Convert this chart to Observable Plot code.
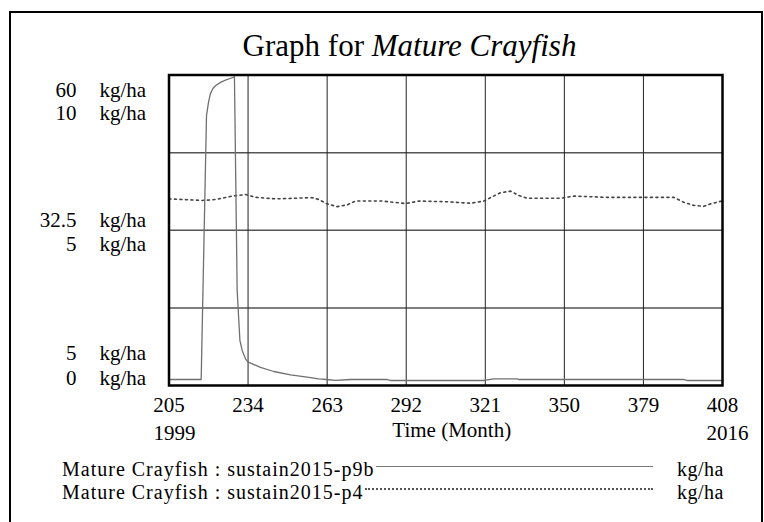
<!DOCTYPE html>
<html><head><meta charset="utf-8">
<script src="https://cdn.jsdelivr.net/npm/d3@7"></script>
<script src="https://cdn.jsdelivr.net/npm/@observablehq/plot@0.6"></script>
<style>
html,body{margin:0;padding:0;background:#fff;}
#wrap{position:relative;width:764px;height:522px;overflow:hidden;font-family:"Liberation Serif","Times New Roman",Times,"DejaVu Serif","Noto Serif",serif;color:#000;}
#wrap svg{position:absolute;left:0;top:0;}
#border{position:absolute;left:9px;top:11px;width:750px;height:600px;border:2px solid #000;}
#title{position:absolute;left:0;width:819px;top:28px;text-align:center;font-size:31px;line-height:36px;white-space:nowrap;}
.row{position:absolute;left:62px;width:591px;height:18px;display:flex;align-items:center;font-size:20px;line-height:18px;letter-spacing:1px;white-space:nowrap;}
.row .sw{flex:1;height:0;margin-left:2px;position:relative;top:-3px;}
.unit{position:absolute;left:677px;font-size:20px;line-height:18px;height:18px;letter-spacing:0.5px;}
</style>
</head><body>
<div id="wrap">
  <div id="chart"></div>
  <div id="border"></div>
  <div id="title"></div>
  <div id="legend"></div>
</div>
<script>
// ---- data ----
const titlePlain = "Graph for ";
const titleItalic = "Mature Crayfish";
const xTicks = [205, 234, 263, 292, 321, 350, 379, 408];
const yearLabels = ["1999", "2016"];
const xAxisLabel = "Time (Month)";
const unit = "kg/ha";
const seriesNames = ["Mature Crayfish : sustain2015-p9b", "Mature Crayfish : sustain2015-p4"];
// solid series scale 5..60, dotted series 0..10
const solidTickLabels = [60, 32.5, 5];
const dottedTickLabels = [10, 5, 0];

const solidMonths = [205, 216.8, 218.75, 219.5, 220.2, 221.1, 222.05, 223.9, 225.7, 228.65, 229.0, 230.0, 231.0, 231.85, 233.05, 233.9, 238.55, 243.4, 249.6, 255.7, 259.9, 262.8, 266.1, 271.6, 285.0, 286.2, 320.5, 324.1, 332.7, 333.5, 393.8, 395, 408];
const solidValues = [6.06, 6.06, 52.8, 55.2, 56.7, 57.6, 58.1, 58.7, 59.1, 59.6, 59.7, 21.8, 13.0, 11.2, 9.73, 9.2, 8.2, 7.48, 6.89, 6.47, 6.19, 6.06, 5.89, 6.06, 6.06, 5.89, 5.89, 6.19, 6.19, 6.06, 6.06, 5.89, 5.89];

const dottedMonths = [205, 217.2, 222.1, 228.2, 233.1, 236.7, 244.1, 257.5, 259.9, 263.0, 266.7, 270.4, 273.4, 283.2, 291.7, 296.6, 306.4, 315.6, 320.5, 322.9, 326.6, 330.3, 333.3, 336.4, 348.6, 353.5, 365.7, 377.9, 390.1, 393.8, 397.5, 401.1, 403.6, 407.2, 408];
const dottedValues = [6.01, 5.96, 5.99, 6.10, 6.15, 6.06, 6.01, 6.05, 5.99, 5.85, 5.76, 5.82, 5.94, 5.94, 5.86, 5.94, 5.92, 5.87, 5.94, 6.05, 6.21, 6.26, 6.12, 6.03, 6.03, 6.10, 6.06, 6.06, 6.06, 5.90, 5.80, 5.77, 5.85, 5.93, 5.94];

// ---- build ----
const solidMin = 5, solidMax = 60, dotMin = 0, dotMax = 10;
const toDot = v => dotMin + (v - solidMin) / (solidMax - solidMin) * (dotMax - dotMin);
const solid = solidMonths.map((m, i) => ({m, v: solidValues[i]}));
const dotted = dottedMonths.map((m, i) => ({m, v: dottedValues[i]}));
const font = "'Liberation Serif','Times New Roman',Times,'DejaVu Serif','Noto Serif',serif";
const fs = 21;

const solidDy = [15.5, -9.7, -32];
const dottedDy = [38.5, 14.3, -7];
const labelMarks = [];
solidTickLabels.forEach((t, i) => {
  const d = [{y: toDot(t), t: String(t)}];
  labelMarks.push(Plot.text(d, {y: "y", text: "t", frameAnchor: "left", dx: -92.5, dy: solidDy[i], textAnchor: "end", fontSize: fs, fontFamily: font, fill: "black"}));
  labelMarks.push(Plot.text(d, {y: "y", text: () => unit, frameAnchor: "left", dx: -69.5, dy: solidDy[i], textAnchor: "start", fontSize: fs, fontFamily: font, fill: "black"}));
});
dottedTickLabels.forEach((t, i) => {
  const d = [{y: t, t: String(t)}];
  labelMarks.push(Plot.text(d, {y: "y", text: "t", frameAnchor: "left", dx: -92.5, dy: dottedDy[i], textAnchor: "end", fontSize: fs, fontFamily: font, fill: "black"}));
  labelMarks.push(Plot.text(d, {y: "y", text: () => unit, frameAnchor: "left", dx: -69.5, dy: dottedDy[i], textAnchor: "start", fontSize: fs, fontFamily: font, fill: "black"}));
});

const plot = Plot.plot({
  width: 764, height: 522,
  marginLeft: 168.5, marginRight: 42, marginTop: 74.5, marginBottom: 137,
  x: {domain: [xTicks[0], xTicks[xTicks.length - 1]], axis: null},
  y: {domain: [dotMin, dotMax], axis: null},
  style: {background: "transparent", fontFamily: font},
  marks: [
    Plot.ruleY([2.5, 5, 7.5], {stroke: "#555", strokeWidth: 1.5}),
    Plot.ruleX(xTicks.slice(1, -1), {stroke: "#222", strokeWidth: 1}),
    Plot.line(dotted, {x: "m", y: "v", stroke: "#444", strokeWidth: 1.6, strokeDasharray: "2,3.5"}),
    Plot.line(solid, {x: "m", y: d => toDot(d.v), stroke: "#707070", strokeWidth: 1.3}),
    Plot.frame({stroke: "black", strokeWidth: 2.5}),
    Plot.text(xTicks, {x: d => d, frameAnchor: "bottom", dy: 20, lineAnchor: "middle", fontSize: fs, fontFamily: font, fill: "black"}),
    Plot.text([yearLabels[0]], {frameAnchor: "bottom-left", dx: -15.5, dy: 48, textAnchor: "start", lineAnchor: "middle", fontSize: fs, fontFamily: font, fill: "black"}),
    Plot.text([yearLabels[1]], {frameAnchor: "bottom-right", dx: 26, dy: 48, textAnchor: "end", lineAnchor: "middle", fontSize: fs, fontFamily: font, fill: "black"}),
    Plot.text([xAxisLabel], {frameAnchor: "bottom", dx: 6, dy: 45, lineAnchor: "middle", fontSize: fs, fontFamily: font, fill: "black"}),
    ...labelMarks
  ]
});
document.getElementById("chart").appendChild(plot);

const title = document.getElementById("title");
title.appendChild(document.createTextNode(titlePlain));
const it = document.createElement("i");
it.textContent = titleItalic;
title.appendChild(it);

const legend = document.getElementById("legend");
const swStyles = ["1px solid #777", "2px dotted #555"];
const rowTops = [460, 483];
seriesNames.forEach((name, i) => {
  const row = document.createElement("div");
  row.className = "row";
  row.style.top = rowTops[i] + "px";
  const s = document.createElement("span");
  s.textContent = name;
  const sw = document.createElement("div");
  sw.className = "sw";
  sw.style.borderTop = swStyles[i];
  row.appendChild(s);
  row.appendChild(sw);
  legend.appendChild(row);
  const u = document.createElement("div");
  u.className = "unit";
  u.style.top = rowTops[i] + "px";
  u.textContent = unit;
  legend.appendChild(u);
});
</script>
</body></html>
